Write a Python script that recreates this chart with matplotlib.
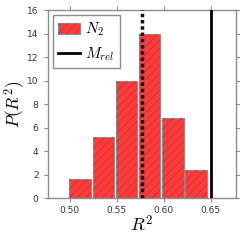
import matplotlib
matplotlib.use('Agg')
import matplotlib.pyplot as plt
from matplotlib.patches import Patch
from matplotlib.lines import Line2D
from matplotlib.legend_handler import HandlerTuple
import numpy as np

bin_left = [0.4995, 0.5242, 0.5488, 0.5735, 0.5981, 0.6228]
bin_width = 0.02466
density = [1.62, 5.22, 9.98, 13.96, 6.81, 2.41]
r2_mean = 0.5765
m_rel = 0.65

plt.rcParams['mathtext.fontset'] = 'cm'
plt.rcParams['hatch.linewidth'] = 0.5

bar_color = '#ff3b3b'
hatch_color = '#c42a2a'
spine_color = '#8c8c8c'

fig = plt.figure(figsize=(2.4, 2.4), dpi=100)
ax = fig.add_axes([0.198, 0.174, 0.787, 0.784])

ax.bar(bin_left, density, width=bin_width * 0.93, align='edge', color=bar_color,
       edgecolor=spine_color, linewidth=0.8, zorder=1)
ax.bar(bin_left, density, width=bin_width * 0.93, align='edge', fill=False,
       hatch='////', edgecolor=hatch_color, linewidth=0, zorder=2)

ax.axvline(r2_mean, color='#111111', linestyle=(0, (1, 0.8)), linewidth=2.5, zorder=3)
ax.axvline(m_rel, color='black', linewidth=2, zorder=3)

ax.set_xlim(0.4762, 0.6773)
ax.set_ylim(0, 16)
ax.set_xticks([0.50, 0.55, 0.60, 0.65])
ax.set_xticklabels(['0.50', '0.55', '0.60', '0.65'])
ax.set_yticks(np.arange(0, 17, 2))

for s in ax.spines.values():
    s.set_color(spine_color)
    s.set_linewidth(1.0)
ax.tick_params(direction='out', length=3, width=0.8, color=spine_color,
               labelsize=6.5, labelcolor='#333333', top=True, right=True)
ax.tick_params(axis='y', pad=3.5)
ax.tick_params(axis='x', pad=2.5)

ax.set_xlabel('$R^2$', fontsize=13, labelpad=0)
ax.set_ylabel('$P(R^2)$', fontsize=12.5, labelpad=0)

handles = [(Patch(facecolor=bar_color, edgecolor=spine_color, linewidth=0.8),
            Patch(fill=False, hatch='////', edgecolor=hatch_color, linewidth=0)),
           Line2D([0], [0], color='black', linewidth=2)]
leg = ax.legend(handles, ['$N_2$', '$M_{rel}$'], loc='upper left', fontsize=11,
                fancybox=False, framealpha=1, edgecolor=spine_color,
                handlelength=1.4, handleheight=0.7, handletextpad=0.35,
                borderpad=0.35, labelspacing=0.45, borderaxespad=0.35,
                handler_map={tuple: HandlerTuple(ndivide=1, pad=0)})
leg.get_frame().set_linewidth(1.0)

plt.savefig('out.png', dpi=100)
